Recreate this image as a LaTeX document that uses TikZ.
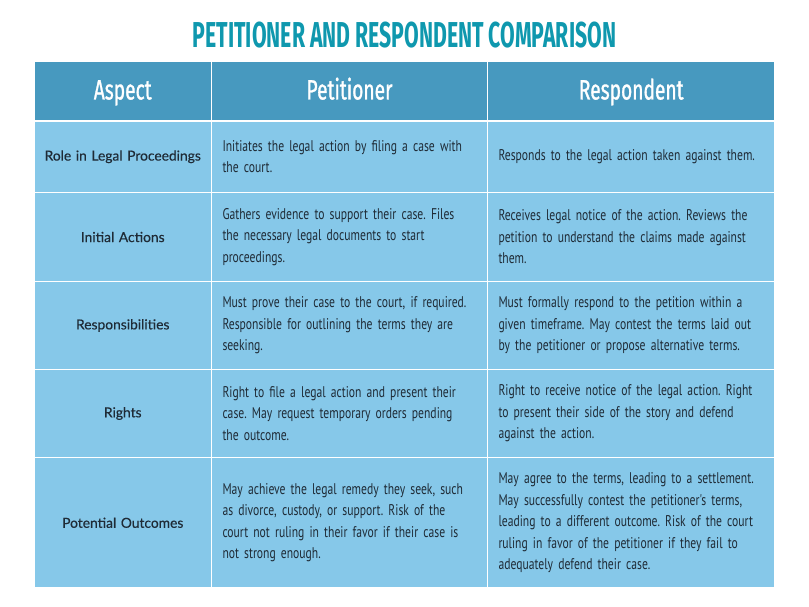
\documentclass[tikz,border=0pt]{standalone}
\usepackage{fontspec}
\setmainfont{PT Sans}
\newfontfamily\bodyfont{PT Sans}[FakeStretch=0.75]
\newfontfamily\headfont{Fira Sans}[FakeStretch=0.685, FakeBold=1.0]
\newfontfamily\titlefont{Fira Sans}[FakeStretch=0.59]
\newfontfamily\aspectfont{Lato}[FakeBold=0.3]
\definecolor{titlecol}{HTML}{0F98AE}
\definecolor{headcol}{HTML}{4799BF}
\definecolor{bodycol}{HTML}{86C8E9}
\definecolor{txtcol}{HTML}{1F2B36}
\tikzset{
  cellbase/.style={draw=white, line width=1.6pt, inner ysep=0pt, inner xsep=11pt, anchor=center},
  headcell/.style={cellbase, fill=headcol, text=white, align=center, text height=17pt, text depth=0pt, font=\headfont\fontsize{28}{30}\selectfont},
  aspectcell/.style={cellbase, inner xsep=3pt, text width=171.5pt, minimum width=177.5pt, fill=bodycol, text=txtcol, align=center, font=\aspectfont\fontsize{13.8}{18}\selectfont},
  textcell/.style={cellbase, fill=bodycol, text=txtcol, align=left, font=\bodyfont\fontsize{15.5}{21.5}\selectfont\frenchspacing},
  titletext/.style={text=titlecol, font=\titlefont\bfseries\fontsize{36}{40}\selectfont, inner sep=0pt}
}
\begin{document}
\begin{tikzpicture}[x=1pt, y=-1pt]
\useasboundingbox (0,0) rectangle (809,607);
\node[titletext] (title) at (404.5,35.2) {PETITIONER AND RESPONDENT COMPARISON};
% columns: c1 34-211.5 (177.5), c2 211.5-487.5 (276), c3 487.5-775 (287.5)
% header
\node[headcell, minimum width=177.5pt, text width=155.5pt, minimum height=60pt] (h1) at (122.75,91) {Aspect};
\node[headcell, minimum width=276pt, text width=254pt, minimum height=60pt] (h2) at (349.5,91) {Petitioner};
\node[headcell, minimum width=287.5pt, text width=265.5pt, minimum height=60pt] (h3) at (631.25,91) {Respondent};
% row 1
\node[aspectcell, minimum height=71.5pt] (a1) at (122.75,156.75) {Role in Legal Proceedings};
\node[textcell, minimum width=276pt, text width=254pt, minimum height=71.5pt] (p1) at (349.5,156.75) {Initiates the legal action by filing a case with\\the court.};
\node[textcell, minimum width=287.5pt, text width=265.5pt, minimum height=71.5pt] (r1) at (631.25,156.75) {Responds to the legal action taken against them.};
% row 2
\node[aspectcell, minimum height=89pt] (a2) at (122.75,237) {Initial Actions};
\node[textcell, minimum width=276pt, text width=254pt, minimum height=89pt] (p2) at (349.5,237) {Gathers evidence to support their case. Files\\the necessary legal documents to start\\proceedings.};
\node[textcell, minimum width=287.5pt, text width=265.5pt, minimum height=89pt] (r2) at (631.25,237) {Receives legal notice of the action. Reviews the\\petition to understand the claims made against\\them.};
% row 3
\node[aspectcell, minimum height=88pt] (a3) at (122.75,325.5) {Responsibilities};
\node[textcell, minimum width=276pt, text width=254pt, minimum height=88pt] (p3) at (349.5,325.5) {Must prove their case to the court, if required.\\Responsible for outlining the terms they are\\seeking.};
\node[textcell, minimum width=287.5pt, text width=265.5pt, minimum height=88pt] (r3) at (631.25,325.5) {Must formally respond to the petition within a\\given timeframe. May contest the terms laid out\\by the petitioner or propose alternative terms.};
% row 4
\node[aspectcell, minimum height=88pt] (a4) at (122.75,413.5) {Rights};
\node[textcell, minimum width=276pt, text width=254pt, minimum height=88pt] (p4) at (349.5,413.5) {Right to file a legal action and present their\\case. May request temporary orders pending\\the outcome.};
\node[textcell, minimum width=287.5pt, text width=265.5pt, minimum height=88pt] (r4) at (631.25,413.5) {Right to receive notice of the legal action. Right\\to present their side of the story and defend\\against the action.};
% row 5
\node[aspectcell, minimum height=130.5pt] (a5) at (122.75,522.75) {Potential Outcomes};
\node[textcell, minimum width=276pt, text width=254pt, minimum height=130.5pt] (p5) at (349.5,522.75) {May achieve the legal remedy they seek, such\\as divorce, custody, or support. Risk of the\\court not ruling in their favor if their case is\\not strong enough.};
\node[textcell, minimum width=287.5pt, text width=265.5pt, minimum height=130.5pt] (r5) at (631.25,522.75) {May agree to the terms, leading to a settlement.\\May successfully contest the petitioner's terms,\\leading to a different outcome. Risk of the court\\ruling in favor of the petitioner if they fail to\\adequately defend their case.};
\end{tikzpicture}
\end{document}
